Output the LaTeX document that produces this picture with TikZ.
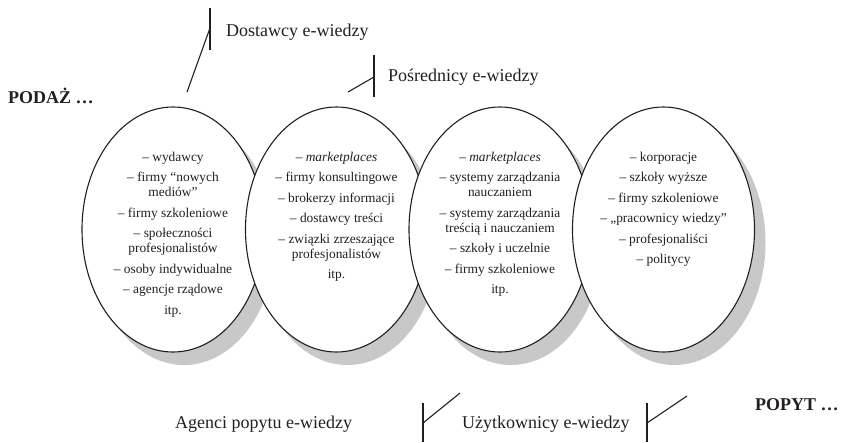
\documentclass[tikz,border=0pt]{standalone}
\usepackage{fontspec}
\setmainfont{Liberation Serif}
\usetikzlibrary{shapes.geometric,shadows}
\definecolor{ink}{RGB}{35,31,32}
\definecolor{shade}{RGB}{200,200,200}
\begin{document}
\begin{tikzpicture}[x=1pt,y=-1pt,
  oval/.style={ellipse, draw=ink, line width=1.1pt, fill=white,
    minimum width=182pt, minimum height=245pt, inner sep=0pt,
    drop shadow={shadow xshift=11pt, shadow yshift=-13pt, fill=shade, opacity=1}},
  itemtext/.style={anchor=north, align=center, inner sep=0pt, text=ink,
    font=\fontsize{13.4}{15}\selectfont},
  lbl/.style={anchor=base west, inner sep=0pt, text=ink,
    font=\fontsize{18}{21}\selectfont},
  side/.style={anchor=base west, inner sep=0pt, text=ink,
    font=\fontsize{18}{21}\selectfont\bfseries},
  bar/.style={draw=ink, line width=1.1pt}]
\useasboundingbox (0,0) rectangle (850,442);

% the four overlapping groups, each with its own shadow
\node[oval] (e1) at (173,229.5) {};
\node[oval] (e2) at (336.5,229.5) {};
\node[oval] (e3) at (500,229.5) {};
\node[oval] (e4) at (663.5,229.5) {};

% contents of the groups
\node[itemtext] (t1) at (173,151) {\rule{0pt}{10pt}– wydawcy\\[5.5pt]
  – firmy “nowych\\ mediów”\\[5.5pt]
  – firmy szkoleniowe\\[5.5pt]
  – społeczności\\ profesjonalistów\\[5.5pt]
  – osoby indywidualne\\[5.5pt]
  – agencje rządowe\\[5.5pt]
  itp.};
\node[itemtext] (t2) at (336.5,151) {\rule{0pt}{10pt}– \textit{marketplaces}\\[5.5pt]
  – firmy konsultingowe\\[5.5pt]
  – brokerzy informacji\\[5.5pt]
  – dostawcy treści\\[5.5pt]
  – związki zrzeszające\\ profesjonalistów\\[5.5pt]
  itp.};
\node[itemtext] (t3) at (500,151) {\rule{0pt}{10pt}– \textit{marketplaces}\\[5.5pt]
  – systemy zarządzania\\ nauczaniem\\[5.5pt]
  – systemy zarządzania\\ treścią i nauczaniem\\[5.5pt]
  – szkoły i uczelnie\\[5.5pt]
  – firmy szkoleniowe\\[5.5pt]
  itp.};
\node[itemtext] (t4) at (663.5,151) {\rule{0pt}{10pt}– korporacje\\[5.5pt]
  – szkoły wyższe\\[5.5pt]
  – firmy szkoleniowe\\[5.5pt]
  – „pracownicy wiedzy”\\[5.5pt]
  – profesjonaliści\\[5.5pt]
  – politycy};

% labels
\node[side] (podaz) at (8,103) {PODAŻ …};
\node[side] (popyt) at (755,410) {POPYT …};
\node[lbl] (dost) at (226,36) {Dostawcy e-wiedzy};
\node[lbl] (posr) at (388,81) {Pośrednicy e-wiedzy};
\node[lbl] (agen) at (175,428) {Agenci popytu e-wiedzy};
\node[lbl] (uzyt) at (462,428) {Użytkownicy e-wiedzy};

% label brackets: a bar beside the text and a stroke towards the groups
\coordinate (dA) at (210,8);   \coordinate (dB) at (210,50);
\coordinate (dJ) at (210,28);  \coordinate (dE) at (187,92);
\coordinate (pA) at (374,55);  \coordinate (pB) at (374,97);
\coordinate (pJ) at (374,77);  \coordinate (pE) at (348,92);
\coordinate (aA) at (423,403); \coordinate (aB) at (423,442);
\coordinate (aJ) at (423,423); \coordinate (aE) at (460,393);
\coordinate (uA) at (647,403); \coordinate (uB) at (647,442);
\coordinate (uJ) at (647,423); \coordinate (uE) at (687,396);
\draw[bar] (dA) -- (dB);  \draw[bar] (dJ) -- (dE);
\draw[bar] (pA) -- (pB);  \draw[bar] (pJ) -- (pE);
\draw[bar] (aA) -- (aB);  \draw[bar] (aJ) -- (aE);
\draw[bar] (uA) -- (uB);  \draw[bar] (uJ) -- (uE);
\end{tikzpicture}
\end{document}
